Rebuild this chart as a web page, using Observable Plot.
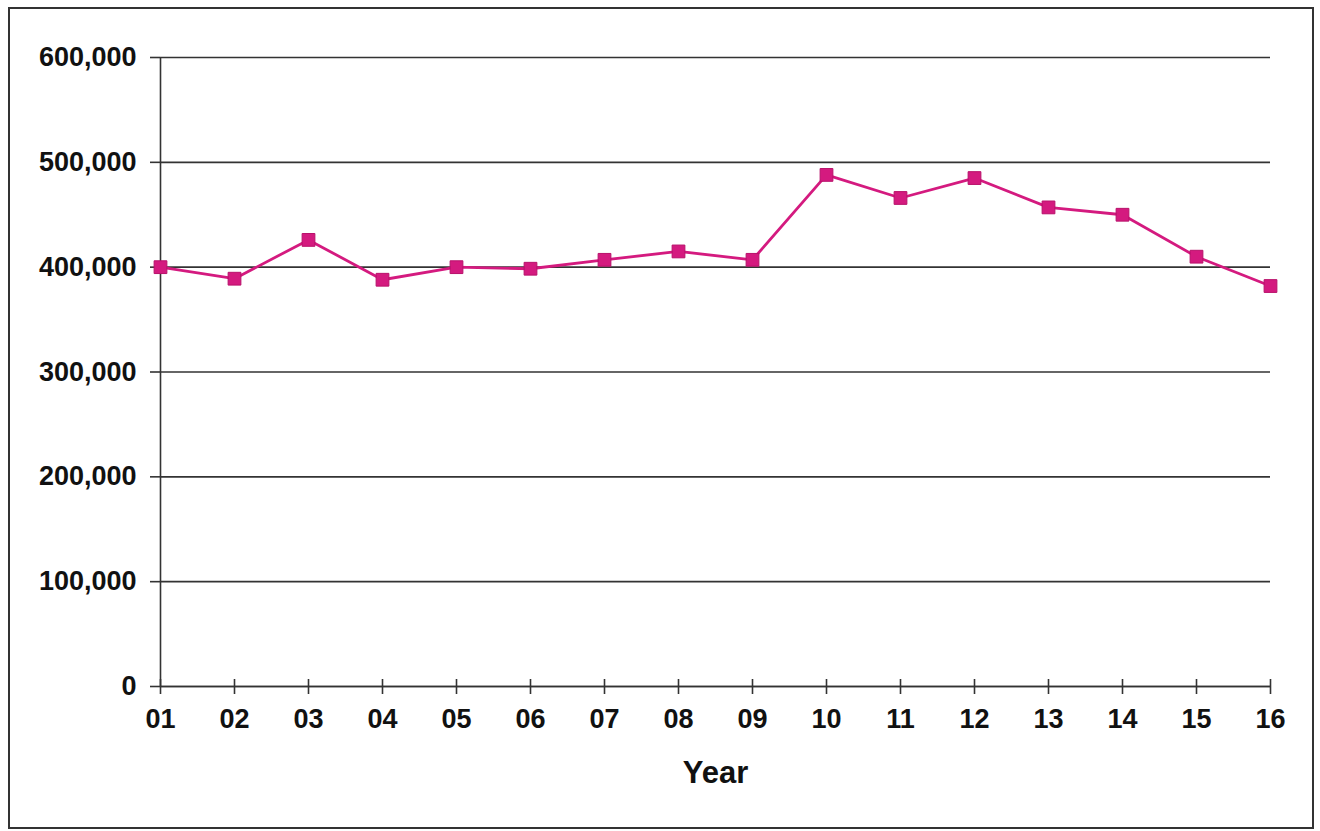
<!DOCTYPE html>
<html>
<head>
<meta charset="utf-8">
<script src="https://cdn.jsdelivr.net/npm/d3@7"></script>
<script src="https://cdn.jsdelivr.net/npm/@observablehq/plot@0.6"></script>
<style>
  html, body { margin: 0; padding: 0; background: #fff; }
  #wrap { position: relative; width: 1320px; height: 831px; }
  #frame { position: absolute; left: 8px; top: 7px; width: 1302px; height: 818px; border: 2px solid #333; box-sizing: content-box; pointer-events: none; }
  svg { display: block; }
</style>
</head>
<body>
<div id="wrap"><div id="frame"></div></div>
<script>
const years = ["01","02","03","04","05","06","07","08","09","10","11","12","13","14","15","16"];
const values = [400000, 389000, 426000, 388000, 400000, 398500, 407000, 415000, 407000, 488000, 466000, 485000, 457000, 450000, 410000, 382000];
const yTicks = [0, 100000, 200000, 300000, 400000, 500000, 600000];

const data = years.map((year, i) => ({year, value: values[i]}));
const lineColor = "#d41a7f";
const fmt = d3.format(",");

const chart = Plot.plot({
  width: 1320,
  height: 831,
  marginLeft: 160,
  marginRight: 50,
  marginTop: 57,
  marginBottom: 145,
  style: {fontFamily: "'Liberation Sans', Arial, sans-serif", fontWeight: "bold", color: "#111", background: "transparent"},
  x: {type: "point", domain: years, padding: 0},
  y: {domain: [0, 600000]},
  marks: [
    Plot.gridY(yTicks, {stroke: "#333", strokeOpacity: 1, strokeWidth: 1.6}),
    Plot.axisY(yTicks, {tickSize: 10, tickPadding: 14, tickFormat: fmt, fontSize: 27, strokeWidth: 1.6, stroke: "#333", label: null}),
    Plot.axisX({tickSize: 8, tickPadding: 14, fontSize: 27, strokeWidth: 1.6, stroke: "#333", label: null}),
    Plot.axisX({tickSize: -7, tickFormat: () => "", strokeWidth: 1.6, stroke: "#333", label: null}),
    Plot.ruleY([0], {stroke: "#333", strokeWidth: 1.6}),
    Plot.ruleX([years[0]], {stroke: "#333", strokeWidth: 1.6}),
    Plot.line(data, {x: "year", y: "value", stroke: lineColor, strokeWidth: 2.8}),
    Plot.dot(data, {x: "year", y: "value", symbol: "square", r: 7.2, fill: lineColor, stroke: "#b8106a", strokeWidth: 1}),
    Plot.text(["Year"], {frameAnchor: "bottom", dy: 96, fontSize: 31, fontWeight: "bold", fill: "#111", textAnchor: "middle", lineAnchor: "bottom"})
  ]
});
document.getElementById("wrap").prepend(chart);
</script>
</body>
</html>
